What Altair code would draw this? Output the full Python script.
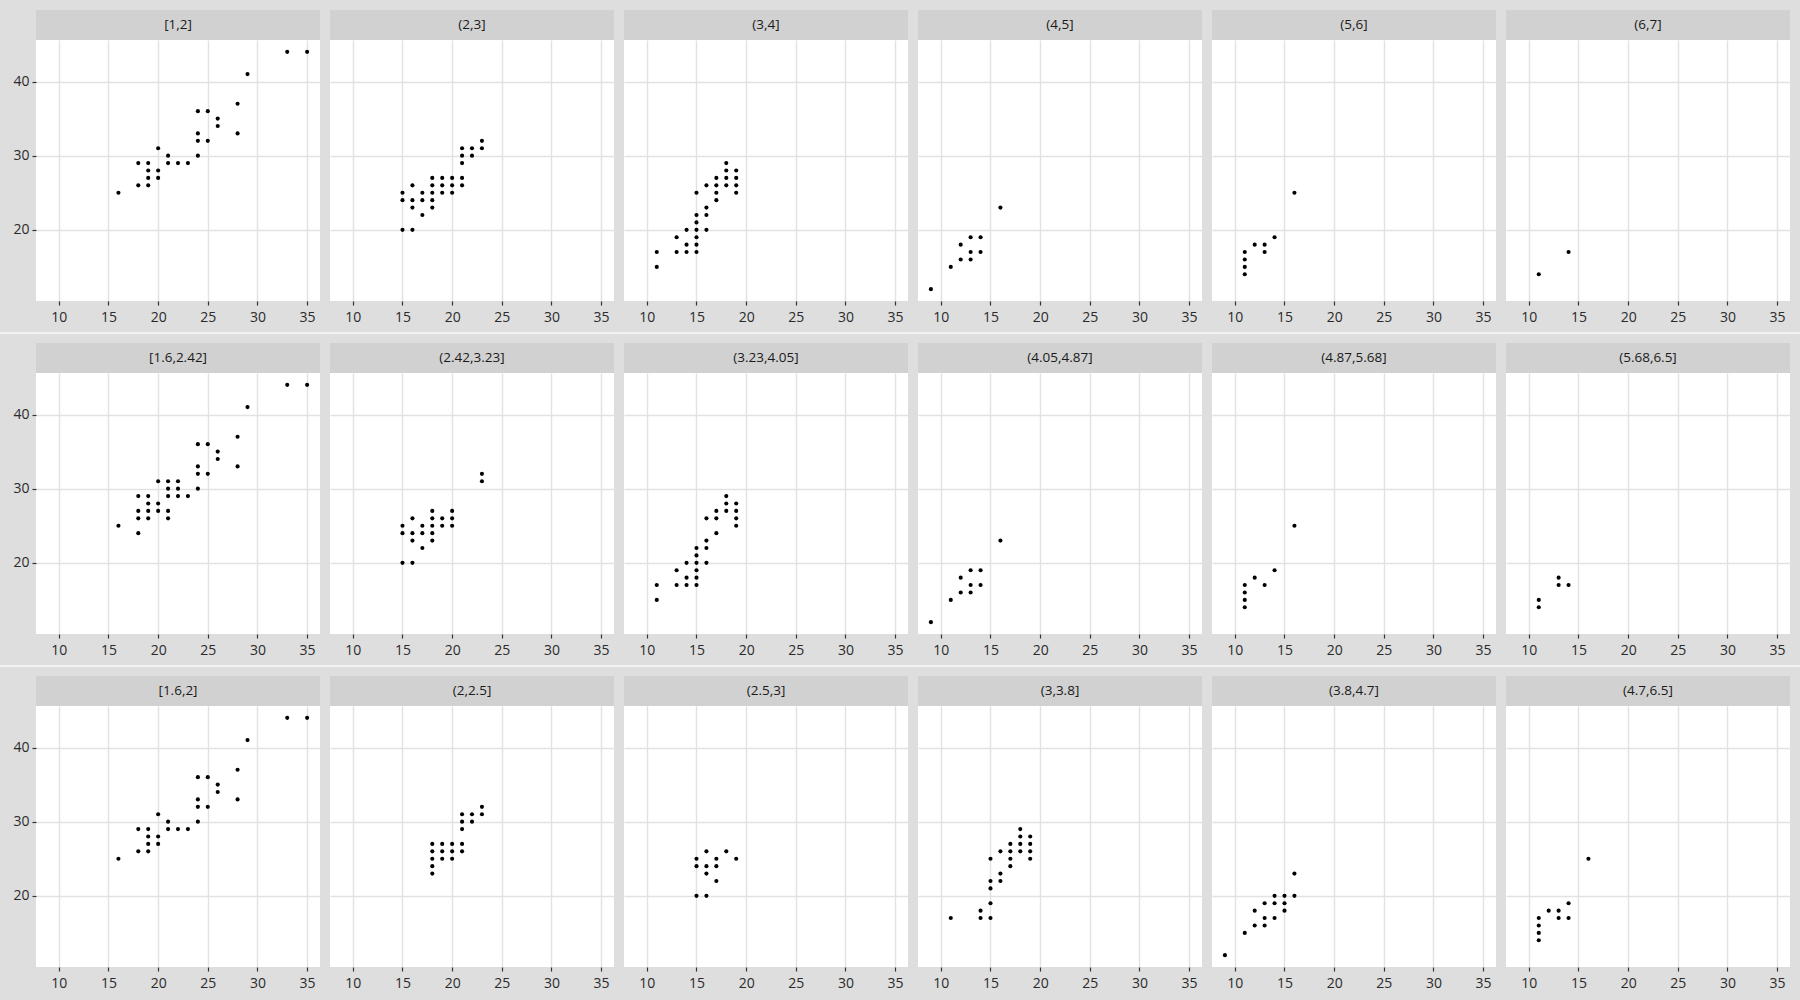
import altair as alt
import pandas as pd

# ---- data: (cty, hwy) points per facet ----
width_labels = ["[1,2]", "(2,3]", "(3,4]", "(4,5]", "(5,6]", "(6,7]"]
interval_labels = ["[1.6,2.42]", "(2.42,3.23]", "(3.23,4.05]", "(4.05,4.87]", "(4.87,5.68]", "(5.68,6.5]"]
number_labels = ["[1.6,2]", "(2,2.5]", "(2.5,3]", "(3,3.8]", "(3.8,4.7]", "(4.7,6.5]"]

W1 = [(16,25),(18,29),(18,26),(19,29),(19,28),(19,27),(19,26),(20,31),(20,28),(20,27),(21,30),(21,29),(22,29),(23,29),(24,36),(24,33),(24,32),(24,30),(25,36),(25,32),(26,35),(26,34),(28,37),(28,33),(29,41),(33,44),(35,44)]
W2 = [(15,25),(15,24),(15,20),(16,26),(16,24),(16,23),(16,20),(17,25),(17,24),(17,22),(18,27),(18,26),(18,25),(18,24),(18,23),(19,27),(19,26),(19,25),(20,27),(20,26),(20,25),(21,31),(21,30),(21,29),(21,27),(21,26),(22,31),(22,30),(23,32),(23,31)]
W3 = [(11,17),(11,15),(13,19),(13,17),(14,20),(14,18),(14,17),(15,25),(15,22),(15,21),(15,20),(15,19),(15,18),(15,17),(16,26),(16,23),(16,22),(16,20),(17,27),(17,26),(17,25),(17,24),(18,29),(18,28),(18,27),(18,26),(19,28),(19,27),(19,26),(19,25)]
W4 = [(9,12),(11,15),(12,18),(12,16),(13,19),(13,17),(13,16),(14,19),(14,17),(16,23)]
W5 = [(11,17),(11,16),(11,15),(11,14),(12,18),(13,18),(13,17),(14,19),(16,25)]
W6 = [(11,14),(14,17)]

I1 = [(16,25),(18,29),(18,27),(18,26),(18,24),(19,29),(19,28),(19,27),(19,26),(20,31),(20,28),(20,27),(21,31),(21,30),(21,29),(21,27),(21,26),(22,31),(22,30),(22,29),(23,29),(24,36),(24,33),(24,32),(24,30),(25,36),(25,32),(26,35),(26,34),(28,37),(28,33),(29,41),(33,44),(35,44)]
I2 = [(15,25),(15,24),(15,20),(16,26),(16,24),(16,23),(16,20),(17,25),(17,24),(17,22),(18,27),(18,26),(18,25),(18,24),(18,23),(19,26),(19,25),(20,27),(20,26),(20,25),(23,32),(23,31)]
I3 = [(11,17),(11,15),(13,19),(13,17),(14,20),(14,18),(14,17),(15,22),(15,21),(15,20),(15,19),(15,18),(15,17),(16,26),(16,23),(16,22),(16,20),(17,27),(17,26),(17,24),(18,29),(18,28),(18,27),(19,28),(19,27),(19,26),(19,25)]
I4 = [(9,12),(11,15),(12,18),(12,16),(13,19),(13,17),(13,16),(14,19),(14,17),(16,23)]
I5 = [(11,17),(11,16),(11,15),(11,14),(12,18),(13,17),(14,19),(16,25)]
I6 = [(11,15),(11,14),(13,18),(13,17),(14,17)]

N1 = [(16,25),(18,29),(18,26),(19,29),(19,28),(19,27),(19,26),(20,31),(20,28),(20,27),(21,30),(21,29),(22,29),(23,29),(24,36),(24,33),(24,32),(24,30),(25,36),(25,32),(26,35),(26,34),(28,37),(28,33),(29,41),(33,44),(35,44)]
N2 = [(18,27),(18,26),(18,25),(18,24),(18,23),(19,27),(19,26),(19,25),(20,27),(20,26),(20,25),(21,31),(21,30),(21,29),(21,27),(21,26),(22,31),(22,30),(23,32),(23,31)]
N3 = [(15,25),(15,24),(15,20),(16,26),(16,24),(16,23),(16,20),(17,25),(17,24),(17,22),(18,26),(19,25)]
N4 = [(11,17),(14,18),(14,17),(15,25),(15,22),(15,21),(15,19),(15,17),(16,26),(16,23),(16,22),(17,27),(17,26),(17,25),(17,24),(18,29),(18,28),(18,27),(18,26),(19,28),(19,27),(19,26),(19,25)]
N5 = [(9,12),(11,15),(12,18),(12,16),(13,19),(13,17),(13,16),(14,20),(14,19),(14,17),(15,20),(15,19),(15,18),(16,23),(16,20)]
N6 = [(11,17),(11,16),(11,15),(11,14),(12,18),(13,18),(13,17),(14,19),(14,17),(16,25)]

x_ticks = [10, 15, 20, 25, 30, 35]
y_ticks = [20, 30, 40]

rows = [
    (width_labels, [W1, W2, W3, W4, W5, W6]),
    (interval_labels, [I1, I2, I3, I4, I5, I6]),
    (number_labels, [N1, N2, N3, N4, N5, N6]),
]

# ---- style ----
PW, PH = 284, 261
STRIP_H = 30
FONT = "Open Sans"
BG = "#DEDEDE"
STRIP = "#D1D1D1"
GRID = "#E2E2E2"
TICK_FS = 14

x_scale = alt.Scale(domain=[7.7, 36.3], nice=False, zero=False)
y_scale = alt.Scale(domain=[10.4, 45.6], nice=False, zero=False)


def panel(label, pts, first, separator):
    df = pd.DataFrame(pts, columns=["cty", "hwy"])
    lab = pd.DataFrame({"label": [label]})
    x_axis = alt.Axis(values=x_ticks, title=None, grid=True, domain=False,
                      ticks=True, tickSize=4, tickColor="#333333", tickWidth=1.2,
                      labelPadding=5, labelFontSize=TICK_FS, labelFont=FONT,
                      labelColor="#2B2B2B", gridColor=GRID, gridWidth=1.4)
    if first:
        y_axis = alt.Axis(values=y_ticks, title=None, grid=True, domain=False,
                          ticks=True, tickSize=4, tickColor="#333333", tickWidth=1.2,
                          labelPadding=3, labelFontSize=TICK_FS, labelFont=FONT,
                          labelColor="#2B2B2B", gridColor=GRID, gridWidth=1.4)
    else:
        y_axis = alt.Axis(values=y_ticks, title=None, grid=True, domain=False,
                          ticks=False, labels=False, gridColor=GRID, gridWidth=1.4)
    pts_chart = alt.Chart(df).mark_circle(size=17, color="black", opacity=1).encode(
        x=alt.X("cty:Q", scale=x_scale, axis=x_axis),
        y=alt.Y("hwy:Q", scale=y_scale, axis=y_axis),
    )
    strip = alt.Chart(lab).mark_rect(color=STRIP).encode(
        x=alt.value(0), x2=alt.value(PW), y=alt.value(-STRIP_H), y2=alt.value(0)
    )
    strip_txt = alt.Chart(lab).mark_text(font=FONT, fontSize=13.5, color="#1A1A1A",
                                         baseline="middle", align="center").encode(
        x=alt.value(PW / 2), y=alt.value(-STRIP_H / 2), text="label:N"
    )
    layers = [strip, strip_txt, pts_chart]
    if first:
        if separator:
            sep = alt.Chart(lab).mark_rect(color="#F2F2F2").encode(
                x=alt.value(-36), x2=alt.value(1764), y=alt.value(-41), y2=alt.value(-39)
            )
        else:
            # background-coloured band so every row has the same left/right extent
            sep = alt.Chart(lab).mark_rect(color=BG).encode(
                x=alt.value(-36), x2=alt.value(1764), y=alt.value(-30), y2=alt.value(-29)
            )
        layers = [sep] + layers
    return alt.layer(*layers).properties(width=PW, height=PH)


row_charts = []
for r, (labels, sets) in enumerate(rows):
    panels = [panel(labels[i], sets[i], i == 0, r > 0) for i in range(6)]
    row_charts.append(alt.hconcat(*panels, spacing=10, bounds="flush"))

chart = alt.vconcat(*row_charts, spacing=8).properties(
    background=BG,
    padding={"left": 0, "top": 10, "right": 0, "bottom": 10},
).configure_view(stroke=None, fill="white")

chart.save("out.html", embed_options={"renderer": "svg", "actions": False})
